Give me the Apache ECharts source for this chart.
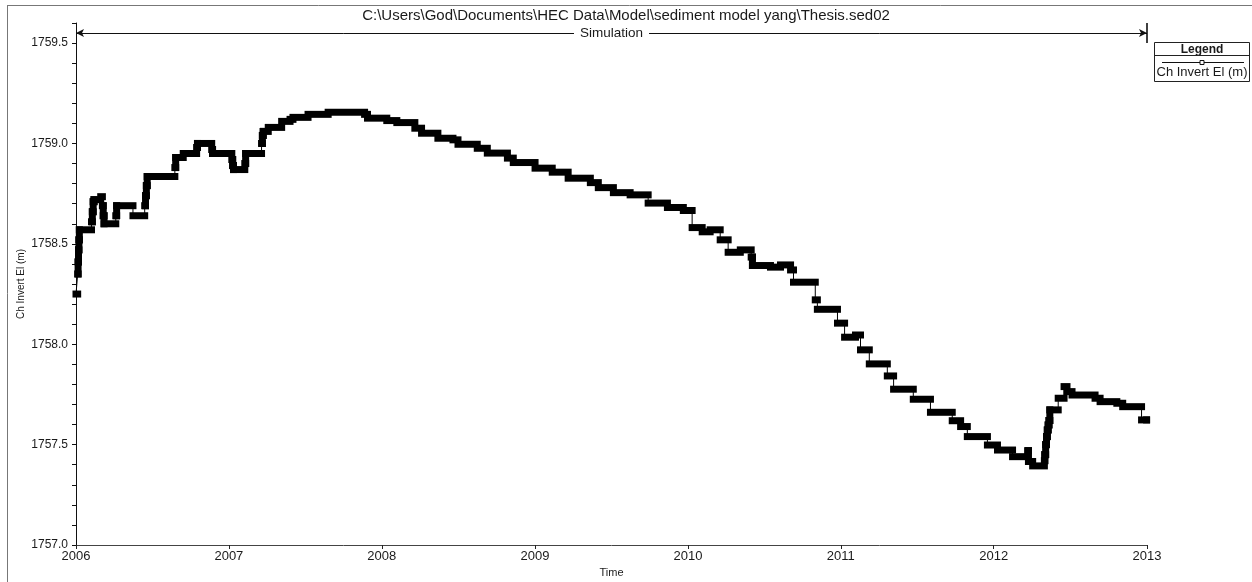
<!DOCTYPE html>
<html>
<head>
<meta charset="utf-8">
<script src="https://cdn.jsdelivr.net/npm/echarts@6/dist/echarts.min.js"></script>
<style>
  html, body { margin: 0; padding: 0; background: #fff; }
  #chart { width: 1252px; height: 582px; }
</style>
</head>
<body>
<div id="chart"></div>
<script>
// ---- text ----
const plotTitle = 'C:\\Users\\God\\Documents\\HEC Data\\Model\\sediment model yang\\Thesis.sed02';
const runLabel = 'Simulation';
const seriesName = 'Ch Invert El (m)';
const legendTitle = 'Legend';
const xAxisName = 'Time';
const yAxisName = 'Ch Invert El (m)';

// ---- axes ----
const timeStart = '2006-01-01';
const timeEnd = '2013-01-01';
const yMin = 1757.0;
const yMax = 1759.6;
const yStep = 0.1;
const yLabelEvery = 0.5;

// simulation window bracket drawn near the top of the plot
const runStart = '2006-01-01';
const runEnd = '2013-01-01';
const runLevel = 1759.55;
const runBarTop = 1759.6;
const runBarBottom = 1759.5;

// ---- channel invert elevation, one entry per change ----
const invertDates = [
  '2006-01-01', '2006-01-05', '2006-01-06', '2006-01-07', '2006-01-08', '2006-01-09',
  '2006-02-07', '2006-02-09', '2006-02-11', '2006-02-13', '2006-03-01', '2006-03-05',
  '2006-03-07', '2006-03-09', '2006-04-06', '2006-04-08', '2006-05-17', '2006-06-14',
  '2006-06-16', '2006-06-18', '2006-06-20', '2006-08-25', '2006-08-27', '2006-09-14',
  '2006-10-16', '2006-10-18', '2006-11-21', '2006-11-23', '2007-01-08', '2007-01-10',
  '2007-01-12', '2007-02-08', '2007-02-10', '2007-03-20', '2007-03-22', '2007-03-24',
  '2007-04-05', '2007-05-07', '2007-05-27', '2007-06-03', '2007-07-09', '2007-08-26',
  '2007-11-21', '2007-11-28', '2008-01-13', '2008-02-06', '2008-03-20', '2008-04-05',
  '2008-05-14', '2008-06-19', '2008-07-01', '2008-08-16', '2008-09-09', '2008-10-27',
  '2008-11-10', '2009-01-01', '2009-02-11', '2009-03-21', '2009-05-13', '2009-06-01',
  '2009-07-07', '2009-08-16', '2009-09-28', '2009-11-13', '2009-12-21', '2010-01-11',
  '2010-02-04', '2010-02-23', '2010-03-19', '2010-04-07', '2010-05-06', '2010-06-01',
  '2010-06-04', '2010-07-17', '2010-08-10', '2010-09-03', '2010-09-10', '2010-11-01',
  '2010-11-06', '2010-12-24', '2011-01-10', '2011-02-05', '2011-02-17', '2011-03-10',
  '2011-04-22', '2011-05-07', '2011-06-23', '2011-08-03', '2011-09-24', '2011-10-14',
  '2011-10-30', '2011-12-17', '2012-01-10', '2012-02-15', '2012-03-22', '2012-03-24',
  '2012-04-03', '2012-05-01', '2012-05-02', '2012-05-04', '2012-05-06', '2012-05-08',
  '2012-05-10', '2012-05-12', '2012-05-14', '2012-06-03', '2012-06-17', '2012-06-24',
  '2012-07-06', '2012-08-30', '2012-09-11', '2012-10-21', '2012-11-04', '2012-12-19',
  '2012-12-31'
];
const invertElev = [
  1758.25, 1758.35, 1758.41, 1758.47, 1758.52, 1758.57,
  1758.61, 1758.66, 1758.71, 1758.72, 1758.735, 1758.69,
  1758.64, 1758.60, 1758.64, 1758.69, 1758.64, 1758.69,
  1758.74, 1758.79, 1758.835, 1758.88, 1758.93, 1758.95,
  1758.98, 1759.00, 1758.97, 1758.95, 1758.92, 1758.89,
  1758.87, 1758.90, 1758.95, 1759.00, 1759.04, 1759.06,
  1759.08, 1759.11, 1759.12, 1759.13, 1759.145, 1759.155,
  1759.145, 1759.126, 1759.114, 1759.104, 1759.076, 1759.051,
  1759.026, 1759.018, 1758.996, 1758.976, 1758.952, 1758.927,
  1758.905, 1758.877, 1758.857, 1758.827, 1758.805, 1758.780,
  1758.755, 1758.744, 1758.703, 1758.681, 1758.666, 1758.581,
  1758.560, 1758.570, 1758.520, 1758.458, 1758.470, 1758.434,
  1758.392, 1758.384, 1758.395, 1758.370, 1758.309, 1758.221,
  1758.174, 1758.105, 1758.035, 1758.046, 1757.972, 1757.902,
  1757.842, 1757.776, 1757.726, 1757.661, 1757.619, 1757.590,
  1757.540, 1757.498, 1757.473, 1757.440, 1757.470, 1757.416,
  1757.394, 1757.420, 1757.450, 1757.500, 1757.540, 1757.573,
  1757.598, 1757.620, 1757.673, 1757.731, 1757.789, 1757.764,
  1757.747, 1757.731, 1757.714, 1757.706, 1757.689, 1757.623,
  1757.623
];

// [date, elevation] pairs for the connecting line
const linePoints = invertDates.map((d, i) => [d, invertElev[i]]);
// [date, elevation, date of next change, elevation of next change] for the heavy held-level bars
const holdPoints = invertDates.map((d, i) => {
  const j = Math.min(i + 1, invertDates.length - 1);
  return [d, invertElev[i], invertDates[j], invertElev[j]];
});

const GRID = { left: 76, right: 105, top: 23, bottom: 37 };
const BAND = 7;                       // thickness of a held level, px
const RAMP_DAYS = 3;                  // changes this close together read as a gradual ramp
const DAY_MS = 24 * 3600 * 1000;
const textColor = '#1a1a1a';
const fontFamily = 'Liberation Sans, Arial, sans-serif';

const chart = echarts.init(document.getElementById('chart'), null, { renderer: 'canvas' });

chart.setOption({
  animation: false,
  backgroundColor: '#fff',
  textStyle: { fontFamily: fontFamily, color: textColor },
  title: {
    text: plotTitle,
    left: 'center',
    top: 8,
    padding: 0,
    textStyle: { fontSize: 15, fontWeight: 'normal', color: textColor, fontFamily: fontFamily }
  },
  grid: {
    left: GRID.left, right: GRID.right, top: GRID.top, bottom: GRID.bottom,
    outerBoundsMode: 'none', containLabel: false
  },
  xAxis: {
    type: 'time',
    min: timeStart,
    max: timeEnd,
    minInterval: 365 * DAY_MS,
    maxInterval: 366 * DAY_MS,
    name: xAxisName,
    nameLocation: 'middle',
    nameGap: 22,
    nameMoveOverlap: false,
    nameTextStyle: { fontSize: 11, color: textColor },
    axisLine: { lineStyle: { color: '#444', width: 1 } },
    axisTick: { show: true, inside: false, length: 4, lineStyle: { color: '#222' } },
    axisLabel: {
      formatter: '{yyyy}',
      fontSize: 13,
      color: textColor,
      margin: 5,
      hideOverlap: false,
      showMinLabel: true,
      showMaxLabel: true
    },
    splitLine: { show: false },
    minorTick: { show: false }
  },
  yAxis: {
    type: 'value',
    min: yMin,
    max: yMax,
    interval: yStep,
    name: yAxisName,
    nameLocation: 'middle',
    nameGap: 50,
    nameMoveOverlap: false,
    nameTextStyle: { fontSize: 10, color: textColor },
    axisLine: { show: true, lineStyle: { color: '#111', width: 1 } },
    axisTick: { show: true, inside: false, length: 4, lineStyle: { color: '#111' } },
    axisLabel: {
      fontSize: 12,
      color: textColor,
      margin: 8,
      formatter: function (v) {
        const k = Math.round(v / yStep);
        const every = Math.round(yLabelEvery / yStep);
        return k % every === 0 ? v.toFixed(1) : '';
      }
    },
    splitLine: { show: false }
  },
  series: [
    {
      name: seriesName,
      type: 'line',
      step: 'end',
      data: linePoints,
      symbol: 'none',
      lineStyle: { color: '#000', width: 1 },
      z: 2,
      markLine: {
        silent: true,
        animation: false,
        symbol: ['arrow', 'arrow'],
        symbolSize: [6, 8],
        lineStyle: { color: '#111', width: 1, type: 'solid' },
        label: {
          show: true,
          position: 'middle',
          distance: 0,
          verticalAlign: 'middle',
          formatter: runLabel,
          color: textColor,
          fontSize: 13.5,
          fontFamily: fontFamily,
          backgroundColor: '#fff',
          padding: [1, 6]
        },
        data: [
          [
            { coord: [runStart, runLevel] },
            { coord: [runEnd, runLevel] }
          ],
          [
            { coord: [runEnd, runBarTop], symbol: 'none', label: { show: false }, lineStyle: { width: 1.5, color: '#000' } },
            { coord: [runEnd, runBarBottom], symbol: 'none' }
          ]
        ]
      }
    },
    {
      name: seriesName,
      type: 'custom',
      dimensions: [
        { name: 't', type: 'time' },
        { name: 'v', type: 'float' },
        { name: 'tNext', type: 'time' },
        { name: 'vNext', type: 'float' }
      ],
      encode: { x: 0, y: 1 },
      data: holdPoints,
      z: 3,
      clip: false,
      renderItem: function (params, api) {
        const t0 = api.value(0), t1 = api.value(2);
        const p0 = api.coord([t0, api.value(1)]);
        const p1 = api.coord([t1, api.value(1)]);
        const q1 = api.coord([t1, api.value(3)]);
        const half = BAND / 2;
        const children = [{
          type: 'rect',
          shape: {
            x: p0[0] - half,
            y: p0[1] - half,
            width: Math.max(p1[0] - p0[0], 0) + BAND,
            height: BAND
          },
          style: { fill: '#000' }
        }];
        // gradual ramps fill in as a solid stack of markers
        if (t1 > t0 && (t1 - t0) <= RAMP_DAYS * DAY_MS) {
          const yTop = Math.min(p1[1], q1[1]);
          const yBot = Math.max(p1[1], q1[1]);
          children.push({
            type: 'rect',
            shape: { x: p1[0] - half, y: yTop - half, width: BAND, height: yBot - yTop + BAND },
            style: { fill: '#000' }
          });
        }
        return { type: 'group', children: children };
      }
    }
  ],
  graphic: [
    // outer frame
    { type: 'line', shape: { x1: 7.5, y1: 5, x2: 7.5, y2: 582 }, style: { stroke: '#777', lineWidth: 1 }, silent: true },
    { type: 'line', shape: { x1: 7, y1: 5.5, x2: 1252, y2: 5.5 }, style: { stroke: '#777', lineWidth: 1 }, silent: true },
    // legend box
    {
      type: 'group',
      left: 1152,
      top: 42,
      silent: true,
      children: [
        { type: 'rect', shape: { x: 0.5, y: 0.5, width: 95, height: 39 }, style: { fill: '#fff', stroke: '#222', lineWidth: 1 } },
        { type: 'text', style: { x: 48, y: 7.5, text: legendTitle, align: 'center', verticalAlign: 'middle', font: 'bold 12px ' + fontFamily, fill: textColor } },
        { type: 'line', shape: { x1: 0.5, y1: 13.5, x2: 95.5, y2: 13.5 }, style: { stroke: '#222', lineWidth: 1 } },
        { type: 'line', shape: { x1: 8, y1: 20.5, x2: 90, y2: 20.5 }, style: { stroke: '#111', lineWidth: 1 } },
        { type: 'rect', shape: { x: 46, y: 18.5, width: 4, height: 4 }, style: { fill: '#fff', stroke: '#111', lineWidth: 1 } },
        { type: 'text', style: { x: 48, y: 30, text: seriesName, align: 'center', verticalAlign: 'middle', font: '13px ' + fontFamily, fill: textColor } }
      ]
    }
  ]
});
</script>
</body>
</html>
